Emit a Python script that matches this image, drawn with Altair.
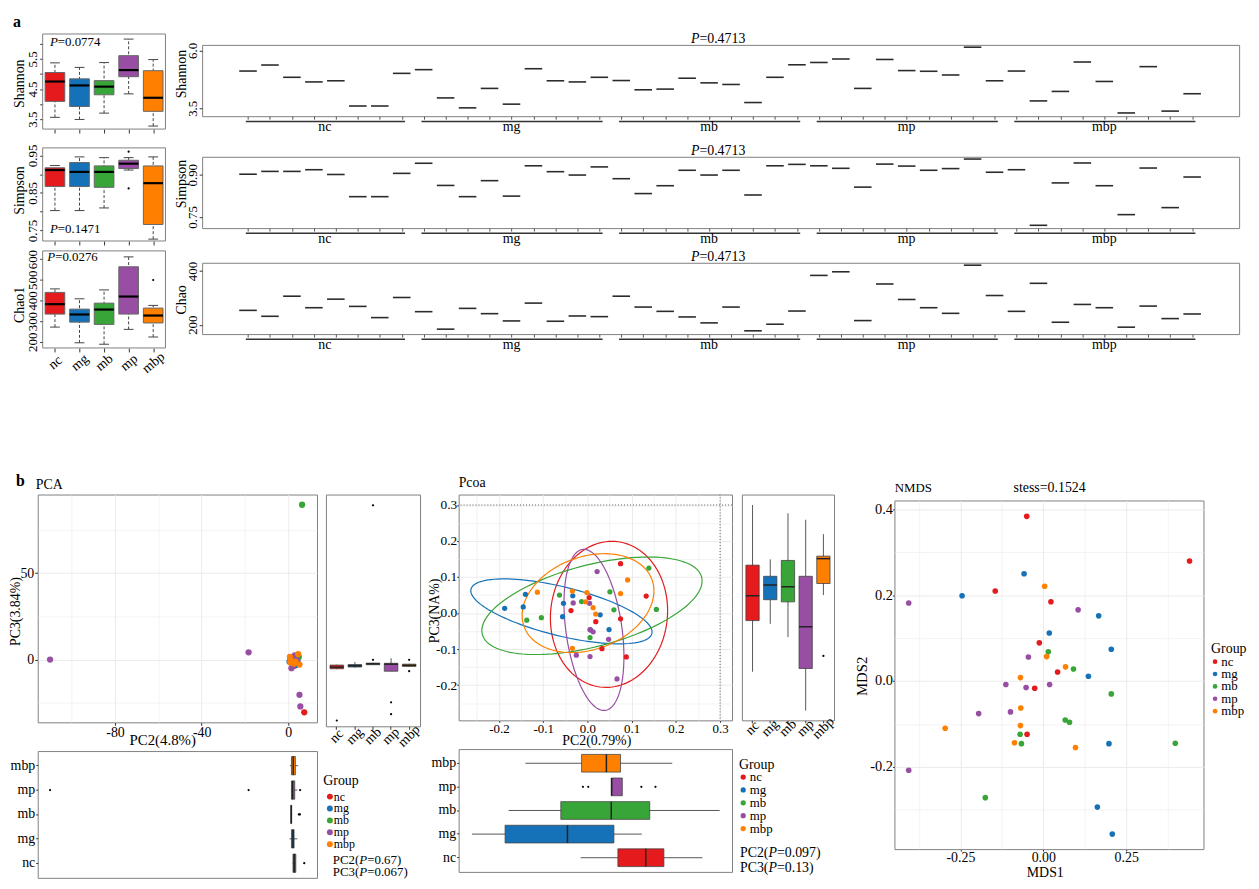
import altair as alt
import numpy as np
import pandas as pd

FONT = "Liberation Serif"
FRAME = "#808080"
GRID = "#EBEBEB"
GROUPS = ["nc", "mg", "mb", "mp", "mbp"]
COLORS = ["#E41A1C", "#1672B8", "#38A538", "#984EA3", "#FF7F00"]
CSCALE = alt.Scale(domain=GROUPS, range=COLORS)

# ---------------- a (left): box statistics ----------------
shannon_low = [3.56, 3.49, 3.70, 4.34, 3.27]
shannon_q1 = [4.09, 3.92, 4.31, 4.91, 3.76]
shannon_med = [4.75, 4.62, 4.58, 5.13, 4.21]
shannon_q3 = [5.05, 4.84, 4.78, 5.61, 5.11]
shannon_high = [5.37, 5.22, 5.38, 6.16, 5.48]
simpson_low = [0.803, 0.803, 0.810, 0.911, 0.727]
simpson_q1 = [0.867, 0.867, 0.865, 0.915, 0.766]
simpson_med = [0.911, 0.906, 0.906, 0.928, 0.876]
simpson_q3 = [0.917, 0.931, 0.922, 0.937, 0.922]
simpson_high = [0.923, 0.946, 0.944, 0.944, 0.946]
simpson_out_group = ["mp", "mp"]
simpson_out_value = [0.960, 0.862]
chao1_low = [271, 195, 188, 260, 223]
chao1_q1 = [334, 295, 284, 334, 291]
chao1_med = [382, 332, 356, 419, 327]
chao1_q3 = [439, 358, 387, 563, 363]
chao1_high = [456, 408, 451, 611, 376]
chao1_out_group = ["mbp"]
chao1_out_value = [499]

# ---------------- a (right): per-sample values ----------------
sample_group = ["nc"] * 8 + ["mg"] * 9 + ["mb"] * 9 + ["mp"] * 9 + ["mbp"] * 9
shannon_sample = [5.11, 5.37, 4.84, 4.64, 4.69, 3.60, 3.60, 5.01,
                  5.17, 3.95, 3.52, 4.36, 3.68, 5.21, 4.69, 4.64, 4.84,
                  4.70, 4.30, 4.33, 4.80, 4.60, 4.53, 3.75, 4.84, 5.38,
                  5.48, 5.63, 4.36, 5.61, 5.13, 5.10, 4.94, 6.14, 4.69,
                  5.11, 3.82, 4.23, 5.50, 4.66, 3.30, 5.30, 3.38, 4.13]
simpson_sample = [0.902, 0.912, 0.912, 0.918, 0.901, 0.822, 0.822, 0.905,
                  0.941, 0.862, 0.822, 0.879, 0.824, 0.932, 0.911, 0.899, 0.928,
                  0.886, 0.833, 0.861, 0.916, 0.899, 0.916, 0.828, 0.932, 0.937,
                  0.932, 0.923, 0.856, 0.938, 0.931, 0.916, 0.922, 0.956, 0.909,
                  0.918, 0.720, 0.871, 0.942, 0.861, 0.758, 0.924, 0.783, 0.892]
chao_sample = [253.5, 231.4, 306.4, 263.4, 295.3, 268.3, 226.5, 301.5,
               248.6, 183.4, 260.9, 241.2, 214.1, 280.6, 212.9, 232.6, 230.1,
               306.4, 265.8, 249.8, 228.9, 206.8, 265.8, 177.2, 201.8, 251.0,
               383.9, 397.4, 215.4, 351.9, 294.1, 263.4, 242.4, 422.0, 308.9,
               249.8, 354.4, 209.2, 275.6, 263.4, 190.8, 269.5, 222.8, 240.0]

# ---------------- b: PCA ----------------
pca_group = sample_group
pca_pc2 = [2.5, 3.0, 2.2, 3.4, 2.8, 2.0, 3.2, 7.4,
           0.6, 1.5, 1.8, 2.0, 2.3, 2.6, 2.7, 3.5, 4.2,
           1.0, 1.2, 1.4, 1.5, 1.6, 1.8, 1.3, 4.9, 6.4,
           -110.0, -18.3, 5.2, 5.6, 2.3, 1.5, 2.0, 3.0, 4.2,
           1.0, 1.5, 2.0, 2.4, 2.8, 3.3, 4.6, 5.2, 0.8]
pca_pc3 = [-2.0, -3.5, -2.8, -1.5, -3.2, -2.4, -3.0, -30.5,
           -1.2, -0.8, -1.9, -2.6, -1.5, -2.2, -2.0, -3.2, -0.6,
           -0.5, -0.8, -1.3, -0.9, -0.4, -1.1, -1.0, 1.5, 89.5,
           0.0, 4.2, -20.4, -27.1, -3.0, -5.0, -1.0, 2.4, -0.8,
           -1.5, -1.0, -2.0, -1.8, -2.3, -1.2, 3.2, -2.9, 1.5]
pca2_low = [2.0, 0.6, 1.0, 1.5, 0.8]
pca2_q1 = [2.2, 1.5, 1.2, 1.5, 1.5]
pca2_med = [2.8, 2.2, 1.4, 2.0, 2.3]
pca2_q3 = [3.5, 2.7, 1.6, 3.0, 3.3]
pca2_high = [3.6, 4.2, 1.8, 4.2, 4.6]
pca2_out_group = ["nc", "mb", "mb", "mp", "mp", "mp"]
pca2_out_value = [7.4, 4.9, 5.4, -110.0, -18.3, 5.5]
pca3_low = [-3.8, -3.0, -1.5, -5.0, -2.5]
pca3_q1 = [-3.6, -2.6, -1.3, -5.0, -2.3]
pca3_med = [-2.7, -1.9, -0.8, -1.0, -1.6]
pca3_q3 = [-1.5, -1.2, -0.4, -0.5, -1.0]
pca3_high = [-1.3, 0.3, -0.2, 2.4, -0.8]
pca3_out_group = ["nc", "mb", "mb", "mp", "mp", "mbp", "mbp"]
pca3_out_value = [-33.0, 1.5, 89.3, -22.7, -29.4, 1.5, -5.0]

# ---------------- b: PCoA ----------------
pcoa_group = sample_group
pcoa_pc2 = [0.075, 0.133, 0.004, -0.037, 0.075, 0.019, 0.033, 0.088,
            -0.187, -0.140, -0.145, -0.054, -0.033, -0.056, 0.029, 0.049, 0.007,
            -0.137, -0.104, -0.063, -0.013, 0.051, 0.060, 0.139, 0.156, 0.006,
            0.022, -0.032, 0.005, 0.006, 0.013, 0.048, -0.025, 0.006, 0.067,
            -0.113, -0.034, -0.001, -0.004, 0.013, 0.019, 0.075, 0.091, -0.034]
pcoa_pc3 = [0.137, 0.047, 0.043, 0.007, -0.016, -0.024, -0.099, -0.122,
            0.013, 0.052, 0.017, 0.027, 0.048, -0.010, -0.005, -0.046, -0.047,
            -0.020, -0.013, 0.050, 0.032, 0.059, 0.009, 0.125, 0.010, -0.068,
            0.115, 0.028, 0.027, -0.046, -0.052, -0.073, -0.117, -0.121, -0.183,
            0.058, 0.061, 0.057, 0.031, 0.015, -0.003, 0.054, 0.092, -0.098]
# confidence ellipses: centre and two conjugate semi-diameters
ell_cx = [0.0489, -0.0586, 0.0104, 0.0149, 0.0015]
ell_cy = [-0.0037, 0.0046, 0.0202, -0.0468, 0.0275]
ell_ux = [0.1325, 0.2049, 0.249, -0.0257, 0.149]
ell_uy = [0.0101, -0.0573, 0.069, 0.2234, 0.034]
ell_vx = [0.0, 0.0, 0.0, 0.0627, 0.0]
ell_vy = [0.2025, 0.0697, 0.1165, 0.011, 0.133]
pcoaR_low = [-0.163, -0.030, -0.067, -0.271, 0.050]
pcoaR_q1 = [-0.021, 0.037, 0.031, -0.154, 0.082]
pcoaR_med = [0.048, 0.078, 0.073, -0.038, 0.151]
pcoaR_q3 = [0.133, 0.102, 0.146, 0.102, 0.158]
pcoaR_high = [0.300, 0.149, 0.277, 0.259, 0.219]
pcoaR_out_group = ["mbp"]
pcoaR_out_value = [-0.119]
pcoaB_low = [-0.015, -0.261, -0.178, 0.054, -0.140]
pcoaB_q1 = [0.069, -0.186, -0.060, 0.054, -0.013]
pcoaB_med = [0.132, -0.045, 0.054, 0.055, 0.043]
pcoaB_q3 = [0.173, 0.060, 0.141, 0.079, 0.075]
pcoaB_high = [0.260, 0.123, 0.299, 0.079, 0.192]
pcoaB_out_group = ["mp", "mp", "mp", "mp"]
pcoaB_out_value = [-0.010, 0.002, 0.122, 0.154]

# ---------------- b: NMDS ----------------
nmds_group = ["nc"] * 8 + ["mg"] * 9 + ["mb"] * 9 + ["mp"] * 9 + ["mbp"] * 9
nmds_x = [-0.050, 0.441, -0.145, 0.023, -0.012, 0.043, -0.026, -0.049,
          -0.058, -0.245, 0.167, 0.018, 0.205, 0.136, 0.198, 0.163, 0.208,
          0.015, 0.091, 0.205, 0.066, 0.079, -0.070, -0.066, 0.398, -0.175,
          -0.406, 0.105, -0.045, -0.113, -0.052, 0.019, -0.099, -0.195, -0.406,
          0.004, 0.010, 0.067, -0.069, -0.068, -0.069, -0.296, -0.087, 0.097]
nmds_y = [0.384, 0.280, 0.210, 0.185, 0.089, 0.021, -0.017, -0.124,
          0.250, 0.199, 0.152, 0.112, 0.074, 0.011, -0.146, -0.294, -0.357,
          0.068, 0.028, -0.030, -0.091, -0.096, -0.124, -0.146, -0.145, -0.272,
          0.182, 0.166, 0.056, -0.008, -0.015, -0.008, -0.072, -0.076, -0.208,
          0.221, 0.057, 0.033, 0.008, -0.063, -0.104, -0.110, -0.144, -0.155]

ONE = pd.DataFrame({"k": [0]})
MINUS = "\u2212"


# ---------------- helpers ----------------
def tw(s, size, italic=False):
    w = 0.0
    for ch in s:
        if ch.isdigit():
            w += 0.5
        elif ch == "P":
            w += 0.611 if italic else 0.556
        else:
            w += {"C": 0.667, "(": 0.333, ")": 0.333, "=": 0.564, ".": 0.25}.get(ch, 0.5)
    return w * size


def rich(parts, x, y, size=14, center=False):
    total = sum(tw(t, size, it) for t, it in parts)
    cx = x - total / 2 if center else x
    out = []
    for t, it in parts:
        out.append(alt.Chart(ONE).mark_text(
            text=t, font=FONT, fontSize=size, fontStyle="italic" if it else "normal",
            align="left", baseline="alphabetic", color="black"
        ).encode(x=alt.value(cx), y=alt.value(y)))
        cx += tw(t, size, it)
    return out


def plain(t, x, y, size=14, weight="normal", align="left"):
    return alt.Chart(ONE).mark_text(
        text=t, font=FONT, fontSize=size, fontWeight=weight, align=align,
        baseline="alphabetic", color="black"
    ).encode(x=alt.value(x), y=alt.value(y))


def bbox(w, h, L, T, R, B):
    return alt.Chart(ONE).mark_rect(opacity=0).encode(
        x=alt.value(-L), x2=alt.value(w + R), y=alt.value(-T), y2=alt.value(h + B))


def unit(layers, w, h, box, frame=True):
    L, T, R, B = box
    ch = alt.layer(*layers, bbox(w, h, L, T, R, B)).properties(width=w, height=h)
    if frame:
        ch = ch.properties(view=alt.ViewBackground(stroke=FRAME, strokeWidth=1))
    return ch


def gg_axis(values, majors, fmt, title, tx, ty, size=14, tick=3, pad=0, tsize=15, is_y=False):
    arr = "[" + ", ".join(repr(v) for v in majors) + "]"
    test = f"indexof({arr}, datum.value) < 0"
    kw = dict(values=values,
              labelExpr=f"{test} ? '' : replace(format(datum.value, '{fmt}'), '{MINUS}', '-')",
              tickOpacity={"condition": {"test": test, "value": 0}, "value": 1},
              gridWidth={"condition": {"test": test, "value": 0.6}, "value": 1.0},
              gridColor=GRID, grid=True, domain=False, tickColor="#333", tickSize=tick,
              labelPadding=pad, labelFontSize=size, labelFlush=False, labelOverlap=False,
              title=title, titleFontSize=tsize, titleX=tx, titleY=ty,
              titleAlign="center", titleBaseline="middle")
    if is_y:
        kw["titleAngle"] = 270
    return alt.Axis(**kw)


def legend_unit(w, h, box, sym_x, title_x, title_y, first_y, spacing, sym, label_x, label_size=13,
                extra=()):
    df = pd.DataFrame({"group": GROUPS})
    ys = alt.Scale(type="point", domain=GROUPS, range=[first_y, first_y + 4 * spacing], padding=0)
    layers = [
        plain("Group", title_x, title_y, size=14),
        alt.Chart(df).mark_circle(size=sym, opacity=1).encode(
            x=alt.value(sym_x), y=alt.Y("group:N", scale=ys, axis=None),
            color=alt.Color("group:N", scale=CSCALE, legend=None)),
        alt.Chart(df).mark_text(font=FONT, fontSize=label_size, align="left", baseline="middle",
                                color="black").encode(
            x=alt.value(label_x), y=alt.Y("group:N", scale=ys, axis=None), text="group:N"),
    ] + list(extra)
    return unit(layers, w, h, box, frame=False)


# ---------------- a: base-R style box panels ----------------
LEFT_PAD = 5 / 24.8  # x-units of blank space left of the framed box area


def rbox_unit(low, q1, med, q3, high, out_g, out_v, dom, yvals, yshow, yfmt, title, title_y,
              h, box, show_x, ptxt, pt_x, pt_y, top_extra=0, extra=()):
    w = 129
    pos = [1, 2, 3, 4, 5]
    df = pd.DataFrame({"group": GROUPS, "pos": pos, "low": low, "q1": q1, "med": med,
                       "q3": q3, "high": high})
    df["bl"] = df["pos"] - 0.4
    df["br"] = df["pos"] + 0.4
    df["cl"] = df["pos"] - 0.2
    df["cr"] = df["pos"] + 0.2
    xs = alt.Scale(domain=[0.5 - LEFT_PAD, 5.5], nice=False, zero=False)
    ys = alt.Scale(domain=dom, range=[h, -top_extra], nice=False, zero=False)
    xaxis = alt.Axis(values=pos, labels=show_x,
                     labelExpr="['', 'nc', 'mg', 'mb', 'mp', 'mbp'][datum.value]",
                     labelAngle=320, labelAlign="center", labelBaseline="middle",
                     labelPadding=10.5, labelFontSize=14, labelFlush=False, labelOverlap=False,
                     tickSize=4, tickColor="#333", domain=False, grid=False, title=None)
    shown = "[" + ", ".join(repr(v) for v in yshow) + "]"
    yaxis = alt.Axis(values=yvals, offset=-5,
                     labelExpr=f"indexof({shown}, datum.value) >= 0 ? replace(format(datum.value, '{yfmt}'), '{MINUS}', '-') : ''",
                     labelAngle=270, labelAlign="center", labelBaseline="bottom", labelPadding=0,
                     labelFontSize=13, labelFlush=False, labelOverlap=False, tickSize=3,
                     tickColor="#333", domain=False, grid=False, title=title, titleFontSize=14,
                     titleAngle=270, titleX=-23, titleY=title_y, titleAlign="center",
                     titleBaseline="middle")

    def xe(f):
        return alt.X(f, scale=xs, axis=xaxis)

    def ye(f):
        return alt.Y(f, scale=ys, axis=yaxis)

    base = alt.Chart(df)
    layers = [
        base.mark_rule(color="#444", strokeDash=[3, 2], strokeWidth=1).encode(
            x=xe("pos:Q"), y=ye("low:Q"), y2="high:Q"),
        base.mark_rule(color="#444", strokeWidth=1).encode(x=xe("cl:Q"), x2="cr:Q", y=ye("low:Q")),
        base.mark_rule(color="#444", strokeWidth=1).encode(x=xe("cl:Q"), x2="cr:Q", y=ye("high:Q")),
        base.mark_bar(stroke="#666", strokeWidth=1, opacity=1).encode(
            x=xe("bl:Q"), x2="br:Q", y=ye("q1:Q"), y2="q3:Q",
            color=alt.Color("group:N", scale=CSCALE, legend=None)),
        base.mark_rule(color="black", strokeWidth=2.2).encode(x=xe("bl:Q"), x2="br:Q", y=ye("med:Q")),
    ]
    if out_g:
        od = pd.DataFrame({"pos": [GROUPS.index(g) + 1 for g in out_g], "v": out_v})
        layers.append(alt.Chart(od).mark_circle(color="black", size=5, opacity=1).encode(
            x=xe("pos:Q"), y=ye("v:Q")))
    fr = pd.DataFrame({"x0": [0.5], "x1": [5.5]})
    layers.append(alt.Chart(fr).mark_rect(fill="transparent", stroke=FRAME, strokeWidth=1).encode(
        x=xe("x0:Q"), x2="x1:Q", y=alt.value(-top_extra), y2=alt.value(h)))
    layers += rich([("P", True), ("=" + ptxt, False)], pt_x, pt_y, size=13)
    layers += list(extra)
    return unit(layers, w, h, box, frame=False)


# ---------------- a: per-sample panels ----------------
spans = []
for g in GROUPS:
    idx = [i for i, s in enumerate(sample_group) if s == g]
    spans.append({"group": g, "s": idx[0] - 0.1, "e": idx[-1] + 0.15, "m": (idx[0] + idx[-1]) / 2})
span_df = pd.DataFrame(spans)
P_TITLE = [("P", True), ("=0.4713", False)]


def sample_unit(values, dom, yvals, yfmt, title, title_y, box):
    w, h = 1047, 72
    df = pd.DataFrame({"idx": list(range(len(values))), "group": sample_group, "v": values})
    df["l"] = df["idx"] - 0.4
    df["r"] = df["idx"] + 0.4
    xs = alt.Scale(domain=[-2.09, 45.14], nice=False, zero=False)
    ys = alt.Scale(domain=dom, nice=False, zero=False)
    xaxis = alt.Axis(values=list(range(len(values))), labels=False, tickSize=3, tickColor="#555",
                     domain=False, grid=False, title=None)
    yaxis = alt.Axis(values=yvals,
                     labelExpr=f"replace(format(datum.value, '{yfmt}'), '{MINUS}', '-')",
                     labelAngle=270, labelAlign="center", labelBaseline="bottom", labelPadding=0,
                     labelFontSize=13, labelFlush=False, tickSize=3, tickColor="#333",
                     domain=False, grid=False, title=title, titleFontSize=14, titleAngle=270,
                     titleX=-21, titleY=title_y, titleAlign="center", titleBaseline="middle")
    layers = [
        alt.Chart(df).mark_rule(color="#2b2b2b", strokeWidth=1.6).encode(
            x=alt.X("l:Q", scale=xs, axis=xaxis), x2="r:Q", y=alt.Y("v:Q", scale=ys, axis=yaxis)),
        alt.Chart(span_df).mark_rule(color="#333", strokeWidth=1.5).encode(
            x=alt.X("s:Q", scale=xs, axis=xaxis), x2="e:Q", y=alt.value(h + 5.3)),
        alt.Chart(span_df).mark_text(font=FONT, fontSize=14, baseline="alphabetic", color="black").encode(
            x=alt.X("m:Q", scale=xs, axis=xaxis), y=alt.value(h + 15), text="group:N"),
    ]
    layers += rich(P_TITLE, 521, -2, size=14, center=True)
    return unit(layers, w, h, box)


# ---------------- b: ggplot style marginal boxes ----------------
def ggbox_layers(vertical, low, q1, med, q3, high, out_g, out_v, dom, length, band_axis):
    order = GROUPS if vertical else GROUPS[::-1]
    df = pd.DataFrame({"group": GROUPS, "low": low, "q1": q1, "med": med, "q3": q3, "high": high})
    od = pd.DataFrame({"group": out_g, "v": out_v})
    bs = alt.Scale(domain=order, paddingInner=0.25, paddingOuter=0.225)
    qs = alt.Scale(domain=dom, nice=False, zero=False)
    bw = length / 5.2 * 0.75
    if vertical:
        def enc(qf, q2f=None):
            d = {"x": alt.X("group:N", scale=bs, axis=band_axis), "y": alt.Y(qf, scale=qs, axis=None)}
            if q2f:
                d["y2"] = alt.Y2(q2f)
            return d
    else:
        def enc(qf, q2f=None):
            d = {"y": alt.Y("group:N", scale=bs, axis=band_axis), "x": alt.X(qf, scale=qs, axis=None)}
            if q2f:
                d["x2"] = alt.X2(q2f)
            return d
    return [
        alt.Chart(df).mark_rule(color="#444", strokeWidth=0.9).encode(**enc("low:Q", "high:Q")),
        alt.Chart(df).mark_bar(stroke="#444", strokeWidth=0.8, opacity=1).encode(
            **enc("q1:Q", "q3:Q"), color=alt.Color("group:N", scale=CSCALE, legend=None)),
        alt.Chart(df).mark_tick(color="#222", thickness=1.5, size=bw, opacity=1).encode(**enc("med:Q")),
        alt.Chart(od).mark_circle(color="black", size=5, opacity=1).encode(**enc("v:Q")),
    ]


def hc(*charts):
    return alt.hconcat(*charts, spacing=0).resolve_scale(color="independent")


def vc(*charts):
    return alt.vconcat(*charts, spacing=0).resolve_scale(color="independent")


# =============== panel a ===============
LS = rbox_unit(shannon_low, shannon_q1, shannon_med, shannon_q3, shannon_high, [], [],
               [3.17, 6.33], [3.5, 4.0, 4.5, 5.0, 5.5, 6.0], [3.5, 4.5, 5.5], ".1f",
               "Shannon", 38.7, 85, (29, 32, 6, 4), False, "0.0774", 12.3, 1, top_extra=11,
               extra=[plain("a", -25, -18.5, size=16, weight="bold")])
LSi = rbox_unit(simpson_low, simpson_q1, simpson_med, simpson_q3, simpson_high,
                simpson_out_group, simpson_out_value,
                [0.722, 0.970], [0.75, 0.8, 0.85, 0.9, 0.95], [0.75, 0.85, 0.95], ".2f",
                "Simpson", 42.5, 94, (29, 6, 6, 2), False, "0.1471", 12.3, 86)
LC = rbox_unit(chao1_low, chao1_q1, chao1_med, chao1_q3, chao1_high,
               chao1_out_group, chao1_out_value,
               [170, 640], [200, 300, 400, 500, 600], [200, 300, 400, 500, 600], "d",
               "Chao1", 54, 98, (29, 4, 6, 30), True, "0.0276", 9.7, 10)

RS = sample_unit(shannon_sample, [3.16, 6.24], [3.5, 6.0], ".1f", "Shannon", 29, (29, 14, 3, 22))
RSi = sample_unit(simpson_sample, [0.710, 0.964], [0.75, 0.9], ".2f", "Simpson", 27, (29, 17, 3, 19))
RC = sample_unit(chao_sample, [165, 431], [200, 400], "d", "Chao", 37, (29, 14, 3, 38))

rowA = hc(vc(LS, LSi, LC), vc(RS, RSi, RC))

TOP_B = 116  # room above the row-b panels (titles)

# =============== PCA ===============
PCA_X = [-115.7, 13.3]
PCA_Y = [-36.3, 95.4]
pca_df = pd.DataFrame({"group": pca_group, "x": pca_pc2, "y": pca_pc3})
pxs = alt.Scale(domain=PCA_X, nice=False, zero=False)
pys = alt.Scale(domain=PCA_Y, nice=False, zero=False)
pca_xaxis = gg_axis([-100, -80, -60, -40, -20, 0], [-80, -40, 0], "d", "PC2(4.8%)", 125.7, 17.5,
                    size=14, tick=3, pad=0, tsize=15)
pca_yaxis = gg_axis([-25, 0, 25, 50, 75], [0, 50], "d", "PC3(3.84%)", -22, 117.7,
                    size=14, tick=3, pad=1, tsize=14, is_y=True)
PS = unit([
    alt.Chart(pca_df).mark_circle(size=40, opacity=1).encode(
        x=alt.X("x:Q", scale=pxs, axis=pca_xaxis), y=alt.Y("y:Q", scale=pys, axis=pca_yaxis),
        color=alt.Color("group:N", scale=CSCALE, legend=None)),
    plain("b", -22, -9, size=16, weight="bold"),
    plain("PCA", -2, -6, size=14),
], 282, 230, (29, TOP_B, 3, 27))

pr_axis = alt.Axis(labelAngle=315, labelAlign="center", labelBaseline="middle", labelPadding=6.5,
                   tickSize=3, tickColor="#333", labelFontSize=14, domain=False, grid=False, title=None)
PR = unit(ggbox_layers(True, pca3_low, pca3_q1, pca3_med, pca3_q3, pca3_high,
                       pca3_out_group, pca3_out_value, PCA_Y, 95, pr_axis),
          95, 234, (4, TOP_B, 5, 23))

pb_axis = alt.Axis(labelFontSize=14, tickSize=2, labelPadding=1, tickColor="#333", domain=False,
                   grid=False, title=None)
PB = unit(ggbox_layers(False, pca2_low, pca2_q1, pca2_med, pca2_q3, pca2_high,
                       pca2_out_group, pca2_out_value, PCA_X, 128, pb_axis),
          282, 128, (29, 0, 3, 2))
LEG_P = legend_unit(104, 128, (0, 0, 0, 2), sym_x=8, title_x=1.3, title_y=34.5, first_y=46,
                    spacing=12, sym=36, label_x=12, label_size=12,
                    extra=rich([("PC2(", False), ("P", True), ("=0.67)", False)], 11, 114, size=13)
                    + rich([("PC3(", False), ("P", True), ("=0.067)", False)], 11, 126, size=13))

pca_col = vc(hc(PS, PR), hc(PB, LEG_P))

# =============== PCoA ===============
PCOA_X = [-0.291, 0.327]
PCOA_Y = [-0.298, 0.329]
pcoa_df = pd.DataFrame({"group": pcoa_group, "x": pcoa_pc2, "y": pcoa_pc3})
t = np.linspace(0, 2 * np.pi, 121)
ell_rows = []
for i, g in enumerate(GROUPS):
    for k, tt in enumerate(t):
        ell_rows.append({"group": g, "o": k,
                         "x": ell_cx[i] + ell_ux[i] * np.cos(tt) + ell_vx[i] * np.sin(tt),
                         "y": ell_cy[i] + ell_uy[i] * np.cos(tt) + ell_vy[i] * np.sin(tt)})
ell_df = pd.DataFrame(ell_rows)
qxs = alt.Scale(domain=PCOA_X, nice=False, zero=False)
qys = alt.Scale(domain=PCOA_Y, nice=False, zero=False)
pc_ticks = [-0.25, -0.2, -0.15, -0.1, -0.05, 0.0, 0.05, 0.1, 0.15, 0.2, 0.25, 0.3]
pc_major = [-0.2, -0.1, 0.0, 0.1, 0.2, 0.3]
pcoa_xaxis = gg_axis(pc_ticks, pc_major, ".1f", "PC2(0.79%)", 139, 20.5, size=13, tick=2, pad=0,
                     tsize=14)
pcoa_yaxis = gg_axis(pc_ticks, pc_major, ".1f", "PC3(NA%)", -24.5, 117, size=13.5, tick=2, pad=0,
                     tsize=14, is_y=True)
ref_df = pd.DataFrame({"v": [0.3]})
QS = unit([
    alt.Chart(ell_df).mark_line(strokeWidth=1.2).encode(
        x=alt.X("x:Q", scale=qxs, axis=pcoa_xaxis), y=alt.Y("y:Q", scale=qys, axis=pcoa_yaxis),
        color=alt.Color("group:N", scale=CSCALE, legend=None), order="o:Q"),
    alt.Chart(pcoa_df).mark_circle(size=28, opacity=1).encode(
        x=alt.X("x:Q", scale=qxs, axis=pcoa_xaxis), y=alt.Y("y:Q", scale=qys, axis=pcoa_yaxis),
        color=alt.Color("group:N", scale=CSCALE, legend=None)),
    alt.Chart(ref_df).mark_rule(strokeDash=[1, 2], color="#555", strokeWidth=1).encode(
        x=alt.X("v:Q", scale=qxs, axis=pcoa_xaxis)),
    alt.Chart(ref_df).mark_rule(strokeDash=[1, 2], color="#555", strokeWidth=1).encode(
        y=alt.Y("v:Q", scale=qys, axis=pcoa_yaxis)),
    plain("Pcoa", 0, -8, size=14),
], 276, 228, (32, TOP_B, 4, 26))

qr_axis = alt.Axis(labelAngle=315, labelAlign="center", labelBaseline="middle", labelPadding=5,
                   tickSize=2.5, tickColor="#333", labelFontSize=14, domain=False, grid=False, title=None)
QR = unit(ggbox_layers(True, pcoaR_low, pcoaR_q1, pcoaR_med, pcoaR_q3, pcoaR_high,
                       pcoaR_out_group, pcoaR_out_value, PCOA_Y, 93, qr_axis),
          93, 228, (4, TOP_B, 7, 26))

qb_axis = alt.Axis(labelFontSize=14, tickSize=2, labelPadding=1, tickColor="#333", domain=False,
                   grid=False, title=None)
QB = unit(ggbox_layers(False, pcoaB_low, pcoaB_q1, pcoaB_med, pcoaB_q3, pcoaB_high,
                       pcoaB_out_group, pcoaB_out_value, PCOA_X, 124, qb_axis),
          276, 124, (32, 0, 4, 9))
LEG_Q = legend_unit(104, 124, (0, 0, 0, 9), sym_x=5.3, title_x=1, title_y=20, first_y=28.3,
                    spacing=13, sym=28, label_x=12, label_size=13,
                    extra=rich([("PC2(", False), ("P", True), ("=0.097)", False)], 2, 109, size=14)
                    + rich([("PC3(", False), ("P", True), ("=0.13)", False)], 2, 124, size=14))

pcoa_col = vc(hc(QS, QR), hc(QB, LEG_Q))

# =============== NMDS ===============
nmds_df = pd.DataFrame({"group": nmds_group, "x": nmds_x, "y": nmds_y})
nxs = alt.Scale(domain=[-0.449, 0.483], nice=False, zero=False)
nys = alt.Scale(domain=[-0.392, 0.421], nice=False, zero=False)
nmds_xaxis = gg_axis([-0.375, -0.25, -0.125, 0.0, 0.125, 0.25, 0.375], [-0.25, 0.0, 0.25], ".2f",
                     "MDS1", 151.8, 23.5, size=14, tick=2, pad=0, tsize=14)
nmds_yaxis = gg_axis([-0.3, -0.2, -0.1, 0.0, 0.1, 0.2, 0.3, 0.4], [-0.2, 0.0, 0.2, 0.4], ".1f",
                     "MDS2", -33, 177, size=14.5, tick=2, pad=0, tsize=15, is_y=True)
SPn = unit([plain("NMDS", 0.3, -2.3, size=13),
            plain("stess=0.1524", 156.7, -2.3, size=14, align="center")],
           312, 1, (0, 0, 0, 0), frame=False)
NP = unit([
    alt.Chart(nmds_df).mark_circle(size=32, opacity=1).encode(
        x=alt.X("x:Q", scale=nxs, axis=nmds_xaxis), y=alt.Y("y:Q", scale=nys, axis=nmds_yaxis),
        color=alt.Color("group:N", scale=CSCALE, legend=None)),
], 312, 352, (52, 3, 4, 31))
LEG_N = legend_unit(41, 352, (0, 3, 0, 31), sym_x=5.7, title_x=1.7, title_y=154, first_y=162.7,
                    spacing=12.5, sym=22, label_x=12, label_size=13)

rowB = hc(pca_col, pcoa_col, vc(SPn, hc(NP, LEG_N)))

chart = vc(rowA, rowB).properties(padding=0).configure(font=FONT).configure_view(
    stroke="transparent"
).configure_axis(
    labelFont=FONT, titleFont=FONT, labelColor="black", titleColor="black",
    titleFontWeight="normal"
)

chart.save("out.html", embed_options={"renderer": "svg", "actions": False})
